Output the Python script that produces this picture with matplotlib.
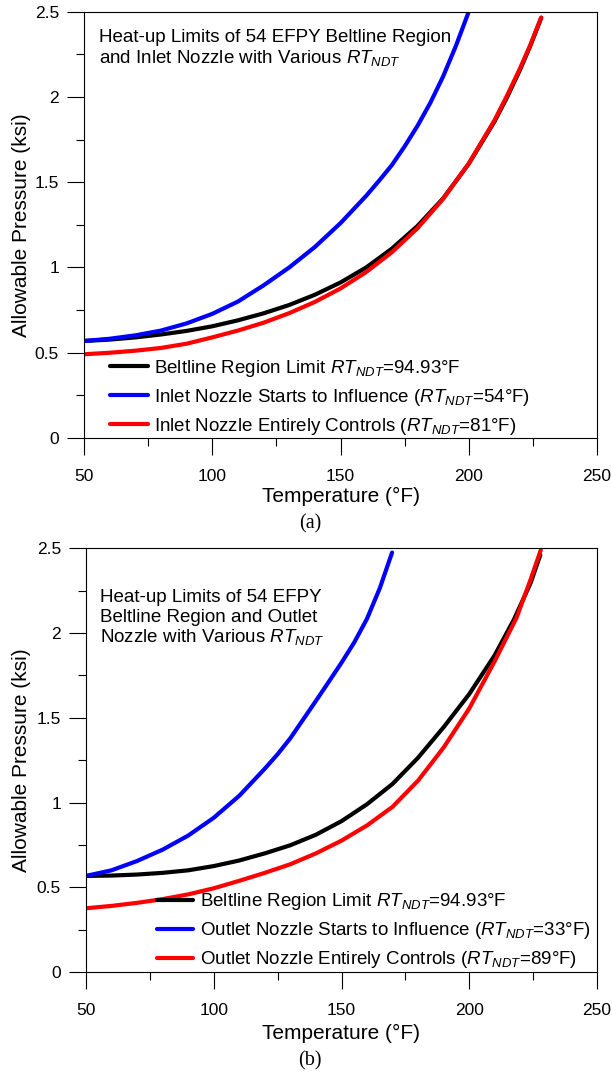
import numpy as np
import matplotlib.pyplot as plt
from matplotlib.ticker import MultipleLocator

plt.rcParams['font.family'] = ['Liberation Sans', 'DejaVu Sans']
plt.rcParams['mathtext.fontset'] = 'custom'
plt.rcParams['mathtext.rm'] = 'Liberation Sans'
plt.rcParams['mathtext.it'] = 'Liberation Sans:italic'

# ---- panel (a): beltline + inlet nozzle ----
t_black_a = [50, 60, 70, 80, 90, 100, 110, 120, 130, 140, 150, 160, 170, 180, 190, 200, 210, 215, 220, 224, 228.3]
p_black_a = [0.569, 0.577, 0.590, 0.607, 0.628, 0.655, 0.690, 0.731, 0.780, 0.840, 0.912, 1.000,
             1.110, 1.243, 1.405, 1.608, 1.855, 2.000, 2.160, 2.300, 2.465]
t_blue_a = [50, 60, 70, 80, 90, 100, 110, 120, 130, 140, 150, 160, 165, 170, 175, 180, 185, 190, 195, 200]
p_blue_a = [0.569, 0.582, 0.602, 0.630, 0.672, 0.728, 0.800, 0.895, 1.000, 1.120, 1.260, 1.420,
            1.508, 1.600, 1.710, 1.830, 1.965, 2.120, 2.300, 2.500]
t_red_a = [50, 60, 70, 80, 90, 100, 110, 120, 130, 140, 150, 160, 170, 180, 190, 200, 210, 215, 220, 224, 228.2]
p_red_a = [0.491, 0.500, 0.512, 0.528, 0.553, 0.590, 0.630, 0.676, 0.732, 0.798, 0.877, 0.973,
           1.089, 1.230, 1.402, 1.610, 1.862, 2.010, 2.168, 2.305, 2.465]

# ---- panel (b): beltline + outlet nozzle ----
t_black_b = [50, 60, 70, 80, 90, 100, 110, 120, 130, 140, 150, 160, 170, 180, 190, 200, 210, 217.5, 224, 227.8]
p_black_b = [0.567, 0.569, 0.575, 0.585, 0.600, 0.625, 0.658, 0.700, 0.748, 0.810, 0.890, 0.990,
             1.110, 1.265, 1.445, 1.640, 1.870, 2.080, 2.295, 2.460]
t_blue_b = [50, 60, 70, 80, 90, 100, 110, 120, 125, 130, 135, 140, 145, 150, 155, 160, 165, 169.8]
p_blue_b = [0.567, 0.600, 0.655, 0.722, 0.805, 0.910, 1.040, 1.200, 1.285, 1.380, 1.490, 1.600,
            1.712, 1.825, 1.945, 2.085, 2.265, 2.475]
t_red_b = [50, 60, 70, 80, 90, 100, 110, 120, 130, 140, 150, 160, 170, 180, 190, 200, 210, 218.5, 224, 228]
p_red_b = [0.376, 0.390, 0.408, 0.430, 0.458, 0.494, 0.538, 0.585, 0.636, 0.700, 0.775, 0.865,
           0.975, 1.130, 1.325, 1.555, 1.835, 2.090, 2.315, 2.490]

labels_a = ['Beltline Region Limit $RT_{NDT}$=94.93°F',
            'Inlet Nozzle Starts to Influence ($RT_{NDT}$=54°F)',
            'Inlet Nozzle Entirely Controls ($RT_{NDT}$=81°F)']
labels_b = ['Beltline Region Limit $RT_{NDT}$=94.93°F',
            'Outlet Nozzle Starts to Influence ($RT_{NDT}$=33°F)',
            'Outlet Nozzle Entirely Controls ($RT_{NDT}$=89°F)']
notes_a = ['Heat-up Limits of 54 EFPY Beltline Region',
           'and Inlet Nozzle with Various $RT_{NDT}$']
notes_b = ['Heat-up Limits of 54 EFPY',
           'Beltline Region and Outlet',
           'Nozzle with Various $RT_{NDT}$']

W, H = 612, 1073
fig = plt.figure(figsize=(W / 100, H / 100), dpi=100)
ax_a = fig.add_axes([84 / W, 1 - 438 / H, 513 / W, 426.3 / H])
ax_b = fig.add_axes([86 / W, 1 - 972 / H, 511 / W, 423.7 / H])


def style(ax):
    ax.set_xlim(50, 250)
    ax.set_ylim(0, 2.5)
    ax.xaxis.set_major_locator(MultipleLocator(50))
    ax.xaxis.set_minor_locator(MultipleLocator(25))
    ax.yaxis.set_major_locator(MultipleLocator(0.5))
    ax.yaxis.set_minor_locator(MultipleLocator(0.25))
    ax.yaxis.set_major_formatter(plt.FuncFormatter(lambda v, p: f'{v:g}'))
    ax.tick_params(which='both', direction='out', width=0.8, labelsize=12.5)
    ax.tick_params(which='major', length=12)
    ax.tick_params(which='minor', length=6)
    ax.tick_params(axis='x', pad=10)
    ax.tick_params(axis='y', pad=6)
    for s in ax.spines.values():
        s.set_linewidth(0.8)
    ax.set_xlabel('Temperature (°F)', fontsize=15)
    ax.set_ylabel('Allowable Pressure (ksi)', fontsize=15)
    ax.xaxis.label.set_verticalalignment('center')
    ax.yaxis.label.set_verticalalignment('center')


lw = 3
style(ax_a)
ax_a.plot(t_black_a, p_black_a, color='black', lw=lw, label=labels_a[0], solid_capstyle='round')
ax_a.plot(t_blue_a, p_blue_a, color='#0000ff', lw=lw, label=labels_a[1], solid_capstyle='round')
ax_a.plot(t_red_a, p_red_a, color='#ff0000', lw=lw, label=labels_a[2], solid_capstyle='round')
ax_a.xaxis.set_label_coords(0.5, -0.138)
ax_a.yaxis.set_label_coords(-0.122, 0.5)
ax_a.legend(loc='center left', bbox_to_anchor=(0.0507, 0.0955), frameon=False, fontsize=13.5,
            handlelength=2.0, handletextpad=0.35, labelspacing=0.42, borderpad=0, borderaxespad=0)
ax_a.text(0.029, 0.9296, notes_a[0], transform=ax_a.transAxes, fontsize=13.5, va='baseline')
ax_a.text(0.029, 0.879, notes_a[1], transform=ax_a.transAxes, fontsize=13.5, va='baseline')

style(ax_b)
ax_b.plot(t_black_b, p_black_b, color='black', lw=lw, label=labels_b[0], solid_capstyle='round')
ax_b.plot(t_blue_b, p_blue_b, color='#0000ff', lw=lw, label=labels_b[1], solid_capstyle='round')
ax_b.plot(t_red_b, p_red_b, color='#ff0000', lw=lw, label=labels_b[2], solid_capstyle='round')
ax_b.xaxis.set_label_coords(0.5, -0.144)
ax_b.yaxis.set_label_coords(-0.126, 0.5)
ax_b.legend(loc='center left', bbox_to_anchor=(0.138, 0.0975), frameon=False, fontsize=13.5,
            handlelength=1.95, handletextpad=0.35, labelspacing=0.42, borderpad=0, borderaxespad=0)
for i, y in enumerate([0.874, 0.826, 0.778]):
    ax_b.text(0.027, y, notes_b[i], transform=ax_b.transAxes, fontsize=13.5, va='baseline')

fig.text(310 / W, 1 - 524 / H, '(a)', family='Liberation Serif', fontsize=14.5, ha='center', va='center')
fig.text(310 / W, 1 - 1061 / H, '(b)', family='Liberation Serif', fontsize=14.5, ha='center', va='center')

fig.savefig('out.png', dpi=100)
